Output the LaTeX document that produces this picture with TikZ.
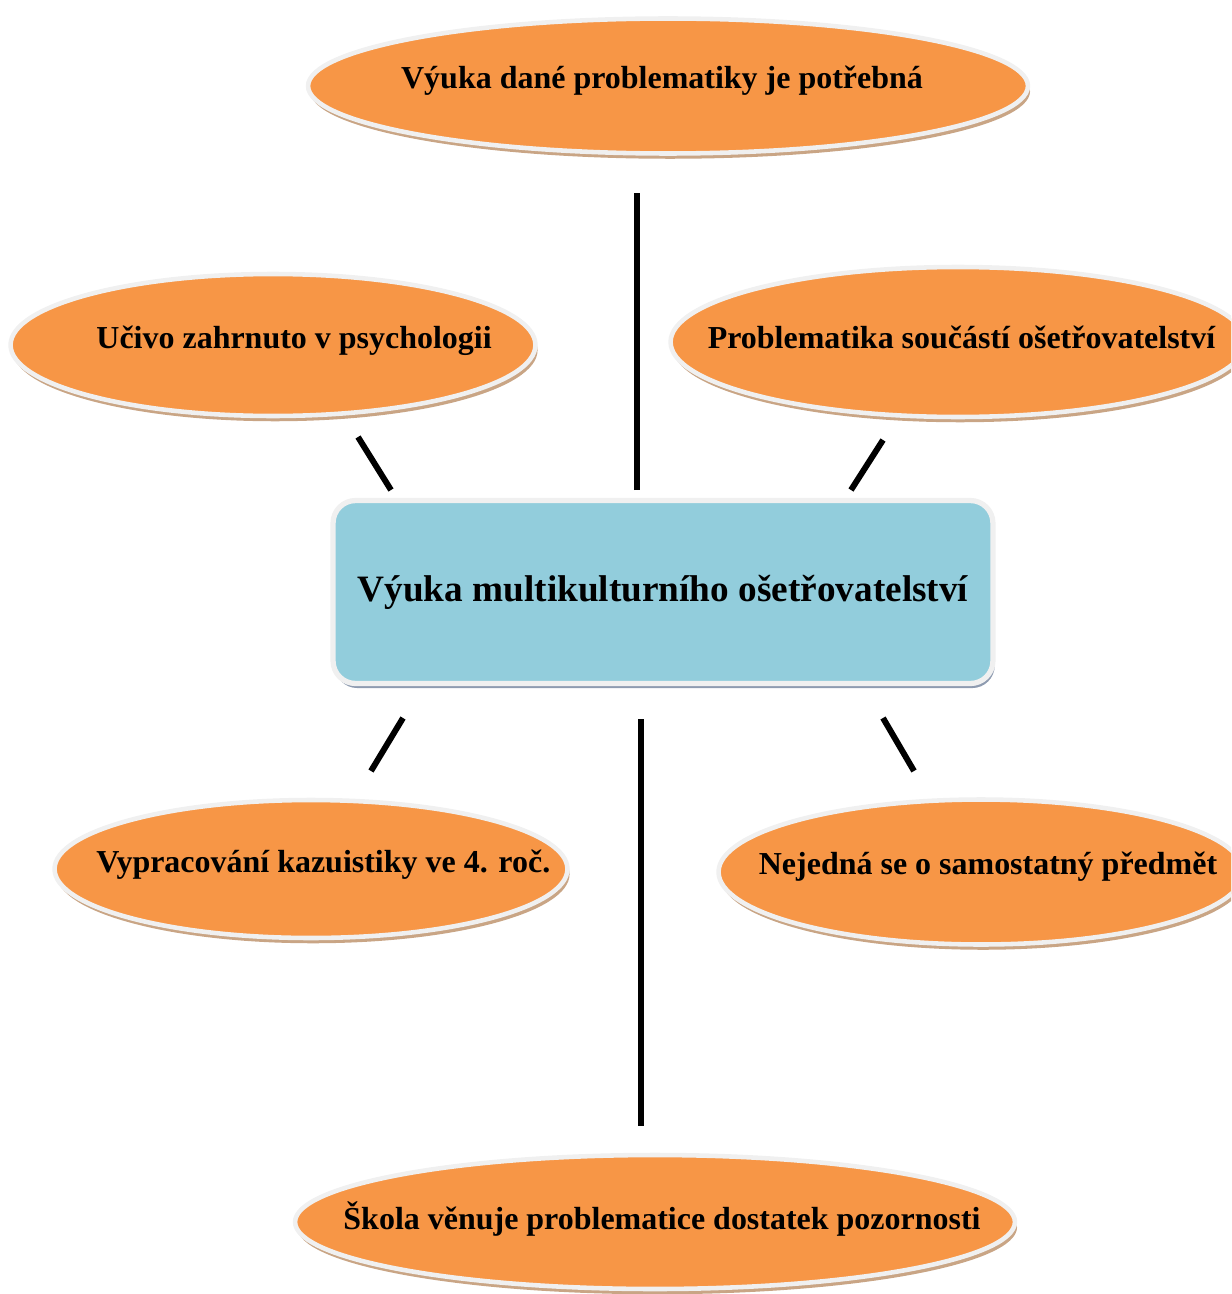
\documentclass[tikz,border=0pt]{standalone}
\usepackage{fontspec}
\setmainfont{Liberation Serif}
\usetikzlibrary{shapes.geometric,shadows}
\definecolor{bubbleorange}{HTML}{F79646}
\definecolor{hubblue}{HTML}{92CDDC}
\definecolor{rimgray}{HTML}{F0F0F0}
\definecolor{shadowtan}{HTML}{C9A585}
\definecolor{shadowblue}{HTML}{8E9BB0}

\begin{document}
\begin{tikzpicture}[x=0.02cm,y=-0.02cm,
	bubble/.style={ellipse,fill=bubbleorange,draw=rimgray,line width=2.6pt,inner sep=0pt,
	drop shadow={shadow xshift=1.2pt,shadow yshift=-3pt,fill=shadowtan,opacity=1}},
	bubbletext/.style={font=\bfseries\fontsize{18.2}{20}\selectfont,text height=10pt,text depth=7pt,inner sep=0pt},
	hub/.style={rectangle,rounded corners=0.45cm,fill=hubblue,draw=rimgray,line width=3pt,
	drop shadow={shadow xshift=1pt,shadow yshift=-2.6pt,fill=shadowblue,opacity=1},
	font=\bfseries\fontsize{21.2}{24}\selectfont,minimum width=13.2cm,minimum height=3.66cm},
	link/.style={line width=3.4pt,black}]
\useasboundingbox (0,0) rectangle (1231,1294);
\clip (0,0) rectangle (1231,1294);
\node[hub] (hub) at (663,592) {Výuka multikulturního ošetřovatelství};
\node[bubble,minimum width=14.4cm,minimum height=2.7cm,
	label={[bubbletext,xshift=-3.4pt]center:Výuka dané problematiky je potřebná}] (top) at (668,86) {};
\node[bubble,minimum width=10.5cm,minimum height=2.84cm,
	label={[bubbletext,xshift=12pt,yshift=-0.6pt]center:Učivo zahrnuto v psychologii}] (psych) at (273,345) {};
\node[bubble,minimum width=11.5cm,minimum height=3.0cm,
	label={[bubbletext,xshift=2pt,yshift=-2.4pt]center:Problematika součástí ošetřovatelství}] (part) at (958,342) {};
\node[bubble,minimum width=10.26cm,minimum height=2.76cm,
	label={[bubbletext,xshift=7pt,yshift=-0.6pt]center:Vypracování kazuistiky ve 4. roč.}] (case) at (311,869) {};
\node[bubble,minimum width=10.5cm,minimum height=2.9cm,
	label={[bubbletext,xshift=4pt]center:Nejedná se o samostatný předmět}] (subj) at (981,872) {};
\node[bubble,minimum width=14.4cm,minimum height=2.68cm,
	label={[bubbletext,xshift=4pt,yshift=-2.6pt]center:Škola věnuje problematice dostatek pozornosti}] (school) at (655,1222) {};
% line ends
\coordinate (t1) at (637,490);  \coordinate (t2) at (637,193);
\coordinate (pl1) at (391,490); \coordinate (pl2) at (358,437);
\coordinate (pr1) at (851,490); \coordinate (pr2) at (883,440);
\coordinate (cl1) at (403,718); \coordinate (cl2) at (371,771);
\coordinate (b1) at (641,719);  \coordinate (b2) at (641,1126);
\coordinate (sr1) at (883,718); \coordinate (sr2) at (914,771);
\draw[link] (t1) -- (t2);
\draw[link] (pl1) -- (pl2);
\draw[link] (pr1) -- (pr2);
\draw[link] (cl1) -- (cl2);
\draw[link] (b1) -- (b2);
\draw[link] (sr1) -- (sr2);
\end{tikzpicture}
\end{document}
